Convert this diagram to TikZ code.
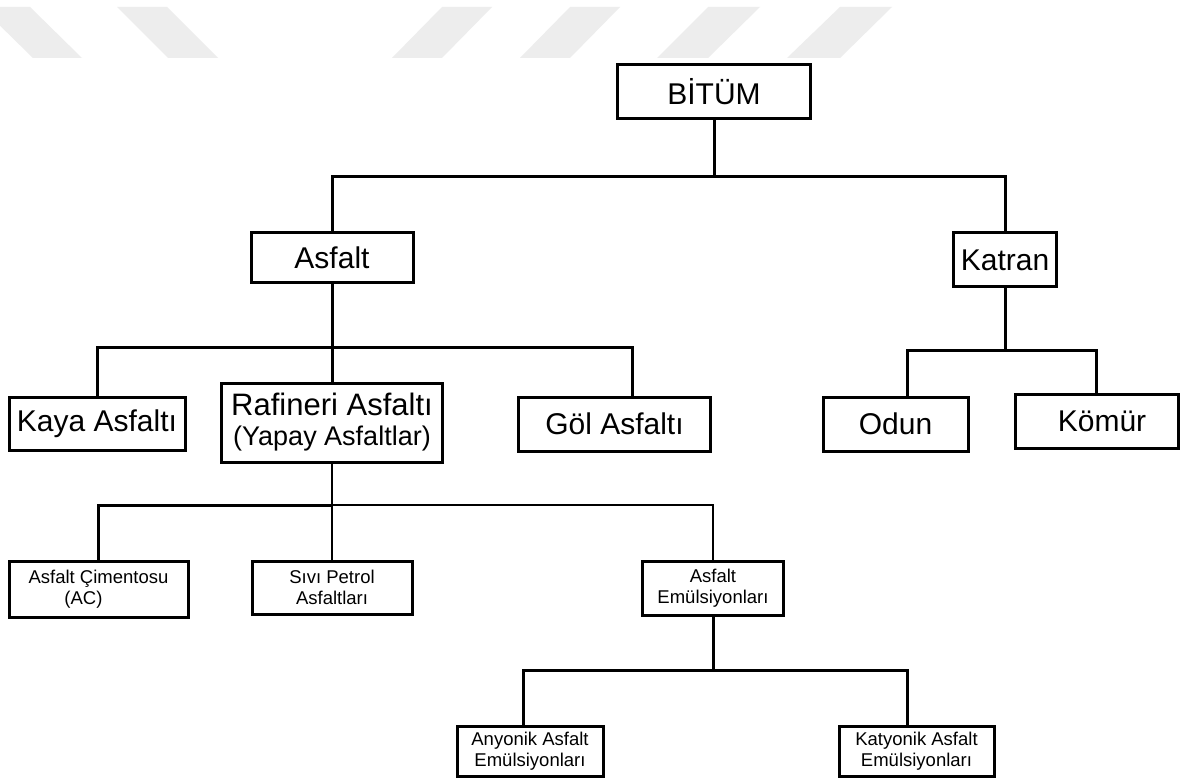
\documentclass[tikz,border=0pt]{standalone}
\usepackage{fontspec}
\setmainfont{Liberation Sans}
\definecolor{wmgray}{RGB}{237,237,237}
\begin{document}
\begin{tikzpicture}[x=1pt,y=-1pt,
  box/.style={draw, line width=3pt, inner sep=0pt, align=center},
  big/.style={font=\fontsize{30}{30}\selectfont},
  small/.style={font=\fontsize{18.5}{21.5}\selectfont},
  conn/.style={line width=3pt},
  thinconn/.style={line width=2.2pt},
  wm/.style={fill=wmgray, draw=none}]
\useasboundingbox (0,0) rectangle (1184,778);
\fill[white] (0,0) rectangle (1184,778);
% watermark
\fill[wm] (-19,7) -- (30,7) -- (82,58) -- (33,58) -- cycle;
\fill[wm] (117,7) -- (167,7) -- (218,58) -- (168,58) -- cycle;
\fill[wm] (442,7) -- (492,7) -- (442,58) -- (392,58) -- cycle;
\fill[wm] (570,7) -- (620,7) -- (570,58) -- (520,58) -- cycle;
\fill[wm] (708,7) -- (760,7) -- (708,58) -- (657,58) -- cycle;
\fill[wm] (840,7) -- (892,7) -- (840,58) -- (787,58) -- cycle;
% nodes
\node[box,big,minimum width=193pt,minimum height=54pt] (bitum) at (714,92) {BİTÜM};
\node[box,big,minimum width=162pt,minimum height=50pt] (asfalt) at (332,258) {Asfalt};
\node[box,big,minimum width=103pt,minimum height=54pt] (katran) at (1005,260) {Katran};
\node[box,big,minimum width=176pt,minimum height=53pt] (kaya) at (97,423.5) {Kaya Asfaltı};
\node[box,font=\fontsize{31}{30}\selectfont,minimum width=221pt,minimum height=79pt] (rafineri) at (332,422.5)
  {Rafineri Asfaltı\\{\fontsize{27}{30}\selectfont (Yapay Asfaltlar)}};
\node[box,big,minimum width=192pt,minimum height=54pt] (gol) at (614.5,424) {Göl Asfaltı};
\node[box,big,minimum width=145pt,minimum height=54pt] (odun) at (895.5,424) {Odun};
\node[box,big,minimum width=163pt,minimum height=54pt] (komur) at (1096.5,421) {\hspace*{11pt}Kömür};
\node[box,small,minimum width=179pt,minimum height=56pt] (cim) at (98.5,589) {Asfalt Çimentosu\\(AC)\hspace*{30pt}};
\node[box,small,minimum width=160pt,minimum height=53pt] (sivi) at (332,587.5) {Sıvı Petrol\\Asfaltları};
\node[box,small,minimum width=141pt,minimum height=54pt] (emul) at (713,588) {Asfalt\\Emülsiyonları};
\node[box,small,minimum width=146pt,minimum height=50pt] (any) at (530,751) {Anyonik Asfalt\\Emülsiyonları};
\node[box,small,minimum width=155pt,minimum height=50pt] (kat) at (916.5,751) {Katyonik Asfalt\\Emülsiyonları};
% junctions
\coordinate (j1) at (714,177);
\coordinate (j2) at (332,347);
\coordinate (j3) at (1005,350);
\coordinate (j4) at (332,505);
\coordinate (j5) at (713,670);
% connectors
\draw[conn] (bitum.south) -- (j1);
\draw[conn] (asfalt.north) |- (j1) -| (katran.north);
\draw[conn] (asfalt.south) -- (j2);
\draw[conn] (kaya.north) |- (j2) -| ([xshift=17.5pt]gol.north);
\draw[conn] (j2) -- (rafineri.north);
\draw[conn] (katran.south) -- (j3);
\draw[conn] ([xshift=11.5pt]odun.north) |- (j3) -| (komur.north);
\draw[thinconn] (rafineri.south) -- (j4);
\draw[conn] (cim.north) |- (j4);
\draw[thinconn] (j4) -| (emul.north);
\draw[thinconn] (j4) -- (sivi.north);
\draw[conn] (emul.south) -- (j5);
\draw[conn] ([xshift=-7pt]any.north) |- (j5) -| ([xshift=-9.5pt]kat.north);
\end{tikzpicture}
\end{document}
